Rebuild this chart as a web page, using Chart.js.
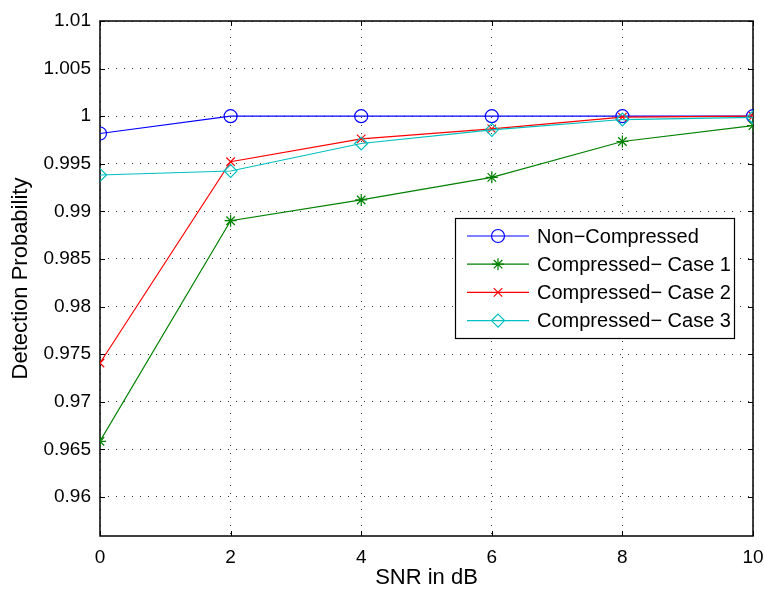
<!DOCTYPE html>
<html>
<head>
<meta charset="utf-8">
<script src="https://cdn.jsdelivr.net/npm/chart.js@4.4.0/dist/chart.umd.min.js"></script>
<style>
  html, body { margin: 0; padding: 0; background: #fff; }
  #wrap { width: 765px; height: 591px; }
</style>
</head>
<body>
<div id="wrap"><canvas id="grafico" width="765" height="591"></canvas></div>
<script>
// Eixo x: SNR em dB
const snr = [0, 2, 4, 6, 8, 10];

// Probabilidade de detecção para cada esquema
const naoComprimido = [0.99818, 1.0, 1.0, 1.0, 1.0, 1.0];
const caso1 = [0.96585, 0.98902, 0.99120, 0.99358, 0.99734, 0.99902];
const caso2 = [0.97407, 0.99522, 0.99762, 0.99867, 0.99990, 1.0];
const caso3 = [0.99382, 0.99424, 0.99713, 0.99857, 0.99965, 0.99988];

// Marcas do eixo y e limites
const yTicks = [0.96, 0.965, 0.97, 0.975, 0.98, 0.985, 0.99, 0.995, 1, 1.005, 1.01];
const yMin = 0.9559;
const yMax = 1.01;

const nomes = ['Non\u2212Compressed', 'Compressed\u2212 Case 1', 'Compressed\u2212 Case 2', 'Compressed\u2212 Case 3'];

const fonte = "'Liberation Sans', Arial, Helvetica, sans-serif";
const ctx = document.getElementById('grafico').getContext('2d');

function serie(label, valores, cor, estilo, raio, ordem) {
  return {
    label: label,
    data: snr.map((x, i) => ({ x: x, y: valores[i] })),
    borderColor: cor,
    backgroundColor: 'rgba(0,0,0,0)',
    borderWidth: 1.2,
    pointStyle: estilo,
    pointRadius: raio,
    pointHoverRadius: raio,
    pointBorderColor: cor,
    pointBackgroundColor: 'rgba(0,0,0,0)',
    pointBorderWidth: 1.2,
    tension: 0,
    fill: false,
    order: ordem
  };
}

// Moldura do eixo + marcas pequenas para dentro (estilo MATLAB)
const moldura = {
  id: 'moldura',
  beforeDatasetsDraw(chart) {
    const { ctx, chartArea: a, scales } = chart;
    const tl = 5;
    ctx.save();
    ctx.strokeStyle = '#000';
    ctx.lineWidth = 1;
    ctx.beginPath();
    scales.x.ticks.forEach(t => {
      const px = Math.round(scales.x.getPixelForValue(t.value)) + 0.5;
      ctx.moveTo(px, a.bottom); ctx.lineTo(px, a.bottom - tl);
      ctx.moveTo(px, a.top); ctx.lineTo(px, a.top + tl);
    });
    scales.y.ticks.forEach(t => {
      const py = Math.round(scales.y.getPixelForValue(t.value)) + 0.5;
      ctx.moveTo(a.left, py); ctx.lineTo(a.left + tl, py);
      ctx.moveTo(a.right, py); ctx.lineTo(a.right - tl, py);
    });
    ctx.stroke();
    ctx.lineWidth = 1.5;
    ctx.strokeRect(a.left, a.top, a.right - a.left, a.bottom - a.top);
    ctx.restore();
  }
};

function desenhaMarcador(c, estilo, x, y, r) {
  c.beginPath();
  if (estilo === 'circle') {
    c.arc(x, y, r, 0, Math.PI * 2);
  } else if (estilo === 'star') {
    for (let k = 0; k < 4; k++) {
      const ang = k * Math.PI / 4;
      c.moveTo(x - Math.cos(ang) * r, y - Math.sin(ang) * r);
      c.lineTo(x + Math.cos(ang) * r, y + Math.sin(ang) * r);
    }
  } else if (estilo === 'crossRot') {
    const d = r * Math.SQRT1_2;
    c.moveTo(x - d, y - d); c.lineTo(x + d, y + d);
    c.moveTo(x - d, y + d); c.lineTo(x + d, y - d);
  } else if (estilo === 'rectRot') {
    c.moveTo(x, y - r); c.lineTo(x + r, y); c.lineTo(x, y + r); c.lineTo(x - r, y); c.closePath();
  }
  c.stroke();
}

// Legenda dentro da área do gráfico
const legenda = {
  id: 'legenda',
  afterDraw(chart) {
    const c = chart.ctx;
    const bx = 455, by = 218, bw = 279, bh = 120;
    c.save();
    c.fillStyle = '#fff';
    c.fillRect(bx, by, bw, bh);
    c.strokeStyle = '#000';
    c.lineWidth = 1.2;
    c.strokeRect(bx + 0.5, by + 0.5, bw, bh);
    c.font = '20px ' + fonte;
    c.textBaseline = 'middle';
    c.textAlign = 'left';
    chart.data.datasets.forEach((ds, i) => {
      const y = by + 18 + i * 28.2;
      c.strokeStyle = ds.borderColor;
      c.lineWidth = 1.2;
      c.beginPath();
      c.moveTo(bx + 12, y); c.lineTo(bx + 74, y);
      c.stroke();
      desenhaMarcador(c, ds.pointStyle, bx + 43, y, ds.pointRadius);
      c.fillStyle = '#000';
      c.fillText(ds.label, bx + 82, y + 1);
    });
    c.restore();
  }
};

const chart = new Chart(ctx, {
  type: 'line',
  data: {
    datasets: [
      serie(nomes[0], naoComprimido, '#0000ff', 'circle', 6.5, 3),
      serie(nomes[1], caso1, '#008000', 'star', 6, 2),
      serie(nomes[2], caso2, '#ff0000', 'crossRot', 6, 1),
      serie(nomes[3], caso3, '#00bfbf', 'rectRot', 6.5, 0)
    ]
  },
  options: {
    responsive: false,
    animation: false,
    layout: { padding: { top: 21, right: 12, bottom: 0, left: 0 } },
    plugins: {
      legend: { display: false },
      tooltip: { enabled: false }
    },
    scales: {
      x: {
        type: 'linear',
        min: 0,
        max: 10,
        afterFit: s => { s.height = 55; s.paddingLeft = 0; s.paddingRight = 0; },
        ticks: { stepSize: 2, color: '#000', font: { family: fonte, size: 19 }, padding: 10, maxRotation: 0 },
        grid: { color: 'rgba(0,0,0,0.8)', lineWidth: 1, drawTicks: false },
        border: { display: false, dash: [1, 7] },
        title: { display: true, text: 'SNR in dB', color: '#000', font: { family: fonte, size: 22 }, padding: { top: 0, bottom: 0 } }
      },
      y: {
        min: yMin,
        max: yMax,
        afterFit: s => { s.width = 100; s.paddingTop = 0; s.paddingBottom = 0; },
        afterBuildTicks: s => { s.ticks = yTicks.map(v => ({ value: v })); },
        ticks: {
          color: '#000',
          font: { family: fonte, size: 19 },
          padding: 9,
          callback: v => String(Number(v.toFixed(3)))
        },
        grid: { color: 'rgba(0,0,0,0.8)', lineWidth: 1, drawTicks: false },
        border: { display: false, dash: [1, 7] },
        title: { display: true, text: 'Detection Probability', color: '#000', font: { family: fonte, size: 22 }, padding: { top: 8, bottom: 0 } }
      }
    }
  },
  plugins: [moldura, legenda]
});
</script>
</body>
</html>
